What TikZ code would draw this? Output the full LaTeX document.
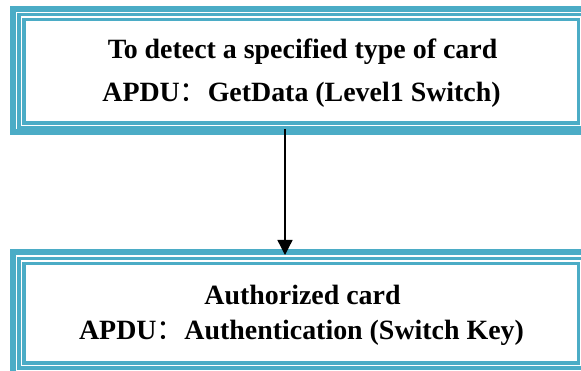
\documentclass[tikz,border=0pt]{standalone}
\usepackage{fontspec}
\setmainfont{Liberation Serif}
\newfontfamily\cjk{Noto Sans CJK SC}
\usetikzlibrary{arrows.meta}
\definecolor{aqua}{HTML}{4BACC6}
\tikzset{
  band/.style={draw=aqua, line width=6pt, rectangle, inner sep=0pt},
  rim/.style={draw=aqua, line width=3.6pt, double=white, double distance=1.2pt},
  label/.style={anchor=base, inner sep=0pt, font=\fontsize{27.9}{32}\selectfont\bfseries},
  flow/.style={line width=1.3pt, -{Triangle[width=15pt,length=15pt]}}
}
\begin{document}
\begin{tikzpicture}[x=1pt,y=-1pt]
\useasboundingbox (0,0) rectangle (581,371);
% upper box: thick band with a double rim inside
\node[band, minimum width=577pt, minimum height=123pt] (topband) at (301.5,70.5) {};
\draw[rim] (21.5,17) rectangle (581,125.5);
\node[label] (t1) at (302.5,59) {To detect a specified type of card};
\node[label] (t2) at (301.5,101.7) {APDU{\cjk\mdseries ：}GetData (Level1 Switch)};
% lower box
\node[band, minimum width=577pt, minimum height=127pt] (botband) at (301.5,315.5) {};
\draw[rim] (21.5,261) rectangle (581,365.5);
\node[label] (b1) at (302.5,304.3) {Authorized card};
\node[label] (b2) at (301.5,340) {APDU{\cjk\mdseries ：}Authentication (Switch Key)};
% connector
\coordinate (ax) at (285,0);
\draw[flow, shorten <=-6pt, shorten >=-6pt] (topband.south -| ax) -- (botband.north -| ax);
\end{tikzpicture}
\end{document}
